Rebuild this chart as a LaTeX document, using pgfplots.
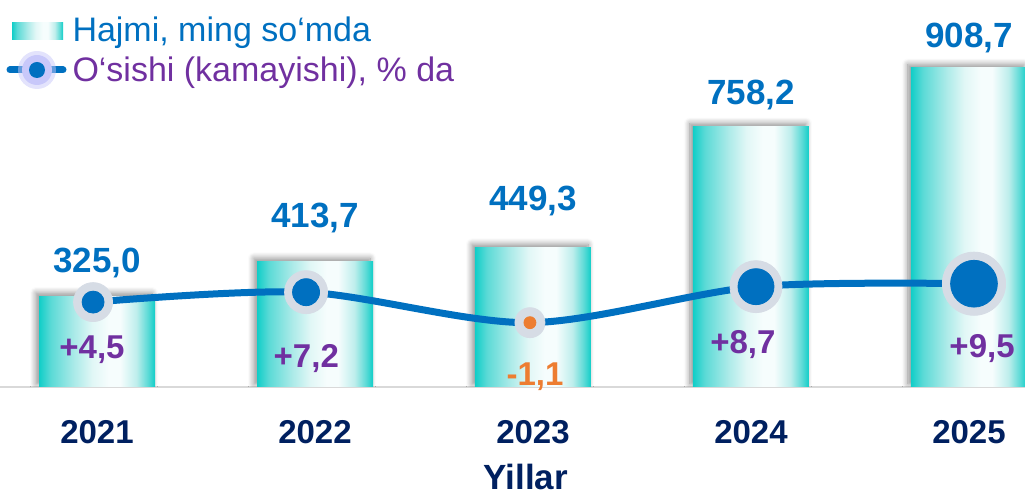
\documentclass[border=0pt]{standalone}
\usepackage{fontspec}
\setmainfont{Liberation Sans}
\usepackage{pgfplots}
\pgfplotsset{compat=1.18}
\usepackage{pgfplotstable}
\usetikzlibrary{shadows.blur}

\definecolor{valblue}{RGB}{0,112,192}
\definecolor{purp}{RGB}{112,48,160}
\definecolor{orng}{RGB}{237,125,49}
\definecolor{navy}{RGB}{0,32,96}
\definecolor{halo}{RGB}{214,220,229}
\definecolor{lav}{RGB}{200,200,250}
\definecolor{axgray}{RGB}{217,217,217}
\definecolor{c0}{RGB}{16,206,200}
\definecolor{c1}{RGB}{90,218,214}
\definecolor{c2}{RGB}{170,234,232}
\definecolor{c3}{RGB}{225,247,246}
\definecolor{c4}{RGB}{246,253,253}
\definecolor{c5}{RGB}{190,238,236}

\pgfdeclarehorizontalshading{barshade}{100bp}{color(0bp)=(c0); color(25bp)=(c0); color(30bp)=(c1); color(40bp)=(c2); color(48bp)=(c3); color(55bp)=(c4); color(60bp)=(c4); color(67bp)=(c5); color(72bp)=(c1); color(75bp)=(c0); color(100bp)=(c0)}

% where the value labels sit (left axis units)
\pgfplotstableread{
x ly lab
0 384.0 325,0
1 499.0 413,7
2 544.6 449,3
3 813.3 758,2
4 958.9 908,7
}\vallabels

% growth, %
\pgfplotstableread{
x y c
-0.018 4.5 a
0.959 7.2 b
1.986 -1.1 c
3.023 8.7 d
4.023 9.5 e
}\growth

\pgfplotstableread{
x ly lab
-0.023 -10.72 +4,5
0.960 -13.17 +7,2
2.963 -9.36 +8,7
4.060 -10.45 +9,5
}\poslabels

\pgfplotstableread{
x ly lab
2.009 -18.07 -1,1
}\neglabels

\pgfplotsset{
  chartbase/.style={scale only axis, width=512.5pt, height=193.5pt, xmin=-0.445, xmax=4.257},
  vbar/.style={ybar, bar width=58pt, bar shift=0pt, draw=none, shading=barshade,
    blur shadow={shadow xshift=-1.5pt, shadow yshift=1.5pt, shadow blur radius=3pt, shadow blur steps=8, shadow opacity=45}}}

\begin{document}
\begin{tikzpicture}
\useasboundingbox (0,-55pt) rectangle (512.5pt,193.5pt);
\begin{axis}[chartbase,
  ymin=92.7, ymax=1081.5,
  axis y line=none, axis x line*=bottom,
  x axis line style={draw=axgray, line width=1pt, -},
  xtick={0,...,4}, xticklabels={2021,2022,2023,2024,2025},
  major tick length=0pt,
  xticklabel style={anchor=base, yshift=-28.5pt, font=\fontsize{16.5}{18}\selectfont\bfseries, text=navy},
  xlabel={Yillar},
  xlabel style={at={(axis description cs:0.513,0)}, anchor=base, yshift=-51.5pt, font=\fontsize{17.5}{20}\selectfont\bfseries, text=navy}]
\addplot[vbar] coordinates {(0,325.0)};
\addplot[vbar] coordinates {(1,413.7)};
\addplot[vbar] coordinates {(2,449.3)};
\addplot[vbar] coordinates {(3,758.2)};
\addplot[vbar] coordinates {(4,908.7)};
\addplot[draw=none, mark=none, point meta=explicit symbolic, nodes near coords,
  nodes near coords style={anchor=base, inner sep=0pt, font=\fontsize{17.5}{20}\selectfont\bfseries, text=valblue}]
  table[x=x, y=ly, meta=lab] \vallabels;
\end{axis}

\begin{axis}[chartbase,
  ymin=-18.6, ymax=86.7,
  hide x axis, hide y axis, clip=false,
  legend style={at={(axis description cs:0,1)}, anchor=north west, yshift=-8.5pt,
    draw=none, fill=none, inner sep=0pt, outer sep=0pt, row sep=0.5pt, column sep=3pt,
    font=\fontsize{17}{19}\selectfont,
    nodes={inner sep=0pt, text height=12.5pt, text depth=4pt}},
  legend cell align=left]
\addlegendimage{legend image code/.code={
  \path[draw=none] (0pt,1pt) -- (33pt,1pt);
  \fill[draw=none, shading=barshade] (6pt,-3pt) rectangle (31.5pt,5.5pt);}}
\addlegendentry{\textcolor{valblue}{Hajmi, ming so‘mda}}
\addplot[smooth, line width=3.5pt, valblue, mark=none,
  legend image code/.code={
    \path[draw=none] (0pt,1.5pt) -- (33pt,1.5pt);
    \draw[line width=3.5pt, valblue, line cap=round] (5pt,1.5pt) -- (31.5pt,1.5pt);
    \fill[draw=none, lav, opacity=0.5] (18.5pt,1.5pt) circle (9.5pt);
    \fill[draw=none, lav] (18.5pt,1.5pt) circle (7.5pt);
    \fill[draw=none, valblue] (18.5pt,1.5pt) circle (4pt);}]
  table[x=x, y=y] \growth;
\addlegendentry{\textcolor{purp}{O‘sishi (kamayishi), \% da}}
\addplot[scatter, only marks, mark=*, forget plot, point meta=explicit symbolic,
  scatter/classes={a={mark size=9.75pt, halo}, b={mark size=10.75pt, halo}, c={mark size=7.5pt, halo}, d={mark size=13pt, halo}, e={mark size=15.8pt, halo}}]
  table[x=x, y=y, meta=c] \growth;
\addplot[scatter, only marks, mark=*, forget plot, point meta=explicit symbolic,
  scatter/classes={a={mark size=5.5pt, valblue}, b={mark size=6.75pt, valblue}, c={mark size=3pt, orng}, d={mark size=9pt, valblue}, e={mark size=11.7pt, valblue}}]
  table[x=x, y=y, meta=c] \growth;
\addplot[draw=none, mark=none, forget plot, point meta=explicit symbolic, nodes near coords,
  nodes near coords style={anchor=base, inner sep=0pt, font=\fontsize{16.5}{19}\selectfont\bfseries, text=purp}]
  table[x=x, y=ly, meta=lab] \poslabels;
\addplot[draw=none, mark=none, forget plot, point meta=explicit symbolic, nodes near coords,
  nodes near coords style={anchor=base, inner sep=0pt, font=\fontsize{16.5}{19}\selectfont\bfseries, text=orng}]
  table[x=x, y=ly, meta=lab] \neglabels;
\end{axis}
\end{tikzpicture}
\end{document}
